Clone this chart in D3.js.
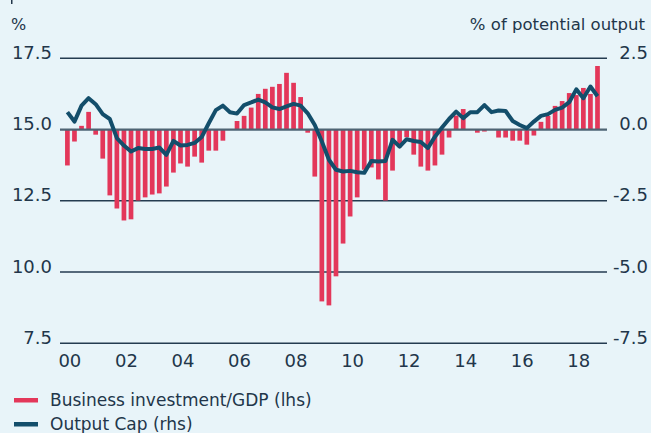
<!DOCTYPE html>
<html>
<head>
<meta charset="utf-8">
<script src="https://cdn.jsdelivr.net/npm/d3@7"></script>
<style>
  body { margin: 0; background: #e8f4f9; }
  svg { display: block; font-family: "DejaVu Sans", sans-serif; }
</style>
</head>
<body>
<div id="chart-container"></div>
<script>
// tick labels
const years = ["00", "01", "02", "03", "04", "05", "06", "07", "08", "09",
  "10", "11", "12", "13", "14", "15", "16", "17", "18"];
const leftTicks = [7.5, 10.0, 12.5, 15.0, 17.5];
const rightTicks = [-7.5, -5.0, -2.5, 0.0, 2.5];

// quarterly categories, 2000Q1 .. 2018Q4
const quarters = years.flatMap(y => ["Q1", "Q2", "Q3", "Q4"].map(q => y + q));

// business investment / GDP, % (lhs)
const investment = [
  13.74, 14.58, 15.13, 15.62, 14.82, 13.98, 12.69, 12.23, 11.81, 11.85,
  12.51, 12.62, 12.72, 12.76, 13.00, 13.49, 13.81, 13.70, 14.05, 13.84,
  14.26, 14.26, 14.61, 15.02, 15.30, 15.48, 15.77, 16.25, 16.43, 16.50,
  16.60, 16.99, 16.64, 16.14, 14.89, 13.35, 8.97, 8.83, 9.85, 11.00,
  11.95, 12.62, 13.59, 13.67, 13.25, 12.51, 13.56, 14.38, 14.73, 14.12,
  13.70, 13.56, 13.74, 14.12, 14.72, 15.49, 15.72, 15.02, 14.89, 14.93,
  15.02, 14.72, 14.72, 14.61, 14.61, 14.47, 14.79, 15.27, 15.48, 15.83,
  16.00, 16.28, 16.21, 16.46, 16.25, 17.23
];

// output gap, % of potential output (rhs)
const outputGap = [
  0.61, 0.28, 0.84, 1.10, 0.89, 0.54, 0.37, -0.30, -0.56, -0.77,
  -0.65, -0.68, -0.68, -0.63, -0.89, -0.40, -0.56, -0.54, -0.47, -0.26,
  0.22, 0.68, 0.84, 0.61, 0.56, 0.86, 0.95, 1.05, 0.95, 0.78,
  0.72, 0.81, 0.90, 0.84, 0.57, 0.16, -0.42, -1.06, -1.41, -1.47,
  -1.45, -1.50, -1.52, -1.10, -1.12, -1.10, -0.36, -0.60, -0.34, -0.40,
  -0.44, -0.65, -0.25, 0.07, 0.37, 0.63, 0.40, 0.61, 0.61, 0.86,
  0.61, 0.67, 0.65, 0.30, 0.16, 0.05, 0.28, 0.48, 0.54, 0.69,
  0.77, 0.96, 1.41, 1.10, 1.51, 1.17
];

const width = 651;
const height = 433;
const plot = { left: 60, right: 607, top: 58.3, bottom: 343.3 };
const barWidth = 4.7;
const red = "#e3375a";
const navy = "#134e6b";
const ink = "#22364a";

const x = d3.scaleLinear()
  .domain([0, quarters.length - 1])
  .range([67.4, 597.5]);

const yLeft = d3.scaleLinear()
  .domain([7.5, 17.5])
  .range([plot.bottom, plot.top]);

const yRight = d3.scaleLinear()
  .domain([-7.5, 2.5])
  .range([plot.bottom, plot.top]);

const fmt = d => d.toFixed(1);

const svg = d3.select("#chart-container")
  .append("svg")
  .attr("width", width)
  .attr("height", height);

svg.append("rect")
  .attr("width", width)
  .attr("height", height)
  .attr("fill", "#e8f4f9");

// stray mark at top left edge
svg.append("rect")
  .attr("x", 11).attr("y", 0)
  .attr("width", 1.5).attr("height", 4)
  .attr("fill", ink);

// gridlines
svg.append("g")
  .selectAll("line")
  .data(leftTicks.filter(d => d !== 15))
  .enter()
  .append("line")
  .attr("x1", plot.left)
  .attr("x2", plot.right)
  .attr("y1", d => yLeft(d))
  .attr("y2", d => yLeft(d))
  .attr("stroke", "#243b50")
  .attr("stroke-width", 1.5);

// left axis labels
const leftAxis = svg.append("g")
  .attr("transform", `translate(${plot.left - 8}, 0)`)
  .call(d3.axisLeft(yLeft).tickValues(leftTicks).tickSize(0).tickPadding(0).tickFormat(fmt));
leftAxis.select(".domain").remove();
leftAxis.selectAll("text")
  .attr("dy", 0)
  .attr("y", 0)
  .attr("fill", ink)
  .style("font-size", "18px")
  .style("font-family", "DejaVu Sans");

// right axis labels
const rightAxis = svg.append("g")
  .attr("transform", `translate(648, 0)`)
  .call(d3.axisLeft(yRight).tickValues(rightTicks).tickSize(0).tickPadding(0).tickFormat(fmt));
rightAxis.select(".domain").remove();
rightAxis.selectAll("text")
  .attr("dy", 0)
  .attr("y", 0)
  .attr("fill", ink)
  .style("font-size", "18px")
  .style("font-family", "DejaVu Sans");

// bars from the 15% baseline
svg.append("g")
  .selectAll("rect")
  .data(investment)
  .enter()
  .append("rect")
  .attr("x", (d, i) => x(i) - barWidth / 2)
  .attr("y", d => yLeft(Math.max(d, 15)))
  .attr("width", barWidth)
  .attr("height", d => Math.abs(yLeft(d) - yLeft(15)))
  .attr("fill", red);

// baseline
svg.append("line")
  .attr("x1", plot.left)
  .attr("x2", plot.right)
  .attr("y1", yLeft(15))
  .attr("y2", yLeft(15))
  .attr("stroke", "#4e6474")
  .attr("stroke-width", 2.2);

// output gap line
svg.append("path")
  .datum(outputGap)
  .attr("d", d3.line().x((d, i) => x(i)).y(d => yRight(d)))
  .attr("fill", "none")
  .attr("stroke", navy)
  .attr("stroke-width", 4)
  .attr("stroke-linejoin", "round")
  .attr("stroke-linecap", "butt");

// x axis labels
svg.append("g")
  .selectAll("text")
  .data(years.filter((d, i) => i % 2 === 0))
  .enter()
  .append("text")
  .attr("x", d => x(years.indexOf(d) * 4 + 0.35))
  .attr("y", 367)
  .attr("text-anchor", "middle")
  .attr("fill", ink)
  .style("font-size", "18px")
  .text(d => d);

// unit labels
svg.append("text")
  .attr("x", 11)
  .attr("y", 30)
  .attr("fill", ink)
  .style("font-size", "16px")
  .text("%");

svg.append("text")
  .attr("x", 645)
  .attr("y", 30)
  .attr("text-anchor", "end")
  .attr("fill", ink)
  .style("font-size", "16.5px")
  .text("% of potential output");

// legend
const legendItems = [
  { label: "Business investment/GDP (lhs)", color: red, y: 400 },
  { label: "Output Cap (rhs)", color: navy, y: 424 }
];
const legend = svg.append("g")
  .selectAll("g")
  .data(legendItems)
  .enter()
  .append("g");
legend.append("rect")
  .attr("x", 14)
  .attr("y", d => d.y - 2)
  .attr("width", 24)
  .attr("height", 4.5)
  .attr("fill", d => d.color);
legend.append("text")
  .attr("x", 50)
  .attr("y", d => d.y + 6)
  .attr("fill", ink)
  .style("font-size", "17px")
  .text(d => d.label);
</script>
</body>
</html>
